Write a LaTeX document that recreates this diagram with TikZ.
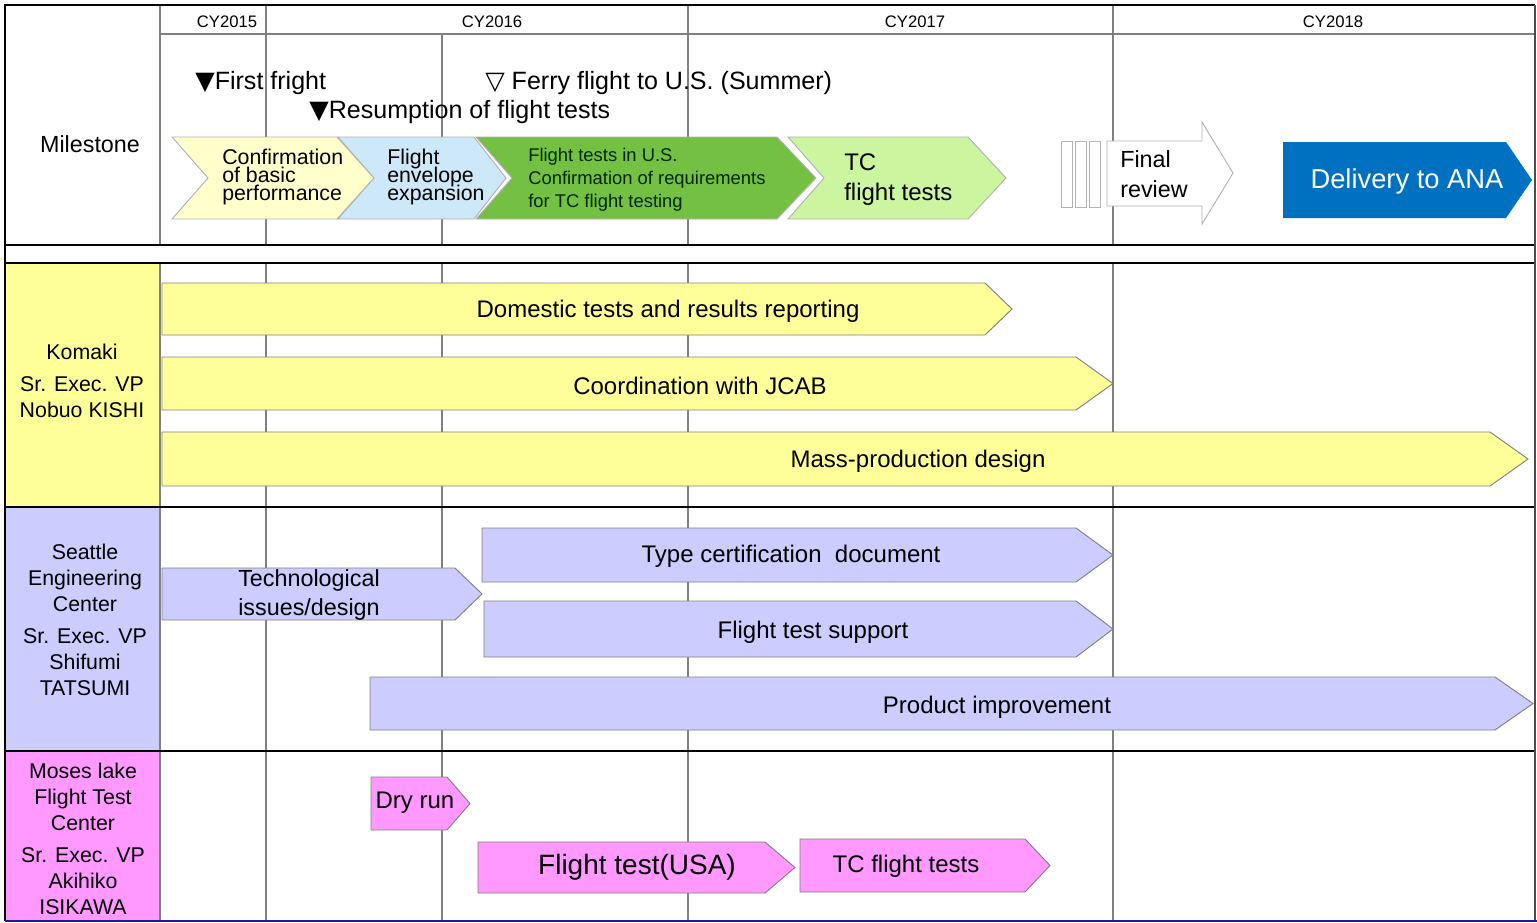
\documentclass[tikz,border=0pt]{standalone}
\usepackage{fontspec}
\setmainfont{Liberation Sans}
\newfontfamily\symf{DejaVu Sans}
\definecolor{barY}{HTML}{FFFF99}
\definecolor{barL}{HTML}{CCCCFF}
\definecolor{barP}{HTML}{FF99FF}
\definecolor{chY}{HTML}{FFFFCC}
\definecolor{chB}{HTML}{CDE8F8}
\definecolor{chG}{HTML}{74C043}
\definecolor{chLG}{HTML}{CCF5A0}
\definecolor{delB}{HTML}{0070C0}
\definecolor{gridc}{HTML}{808080}
\definecolor{navy}{HTML}{1A1AA0}
\newcommand{\mybar}[6]{\path[#1] (#2,#3) -- (#4,#3) -- (#5,{(#3+#6)/2}) -- (#4,#6) -- (#2,#6) -- cycle;}
\newcommand{\mychev}[7]{\path[#1] (#2,#3) -- (#4,#3) -- (#5,{(#3+#6)/2}) -- (#4,#6) -- (#2,#6) -- ({#2+#7},{(#3+#6)/2}) -- cycle;}
\AtBeginDocument{\lineskiplimit=-20pt\relax}
\begin{document}
\begin{tikzpicture}[x=0.75pt,y=-0.75pt,
  gridline/.style={draw=gridc, line width=0.9pt},
  thickline/.style={draw=black, line width=2.2pt},
  barbox/.style={draw=gridc, line width=0.7pt},
  chevbox/.style={draw=gray!60, line width=0.7pt},
  bartxt/.style={font=\fontsize{18}{21}\selectfont, inner sep=0, align=center},
  celltxt/.style={font=\fontsize{16}{19.5}\selectfont, inner sep=0, align=center},
  yeartxt/.style={font=\fontsize{12.5}{14}\selectfont, inner sep=0},
  mstxt/.style={font=\fontsize{18.8}{21}\selectfont, inner sep=0, anchor=base west},
  tightleft/.style={anchor=west, align=left, inner sep=0, font=\fontsize{16}{13.4}\selectfont}]
\useasboundingbox (0,0) rectangle (1537,922);
\fill[white] (0,0) rectangle (1537,922);
% left column fills
\fill[barY] (5,263) rectangle (160,507);
\fill[barL] (5,507) rectangle (160,751);
\fill[barP] (5,751) rectangle (160,920);
% grid lines
\draw[gridline] (160,5) -- (160,920);
\draw[gridline] (160,34) -- (1535,34);
\foreach \gx in {266,688,1113} {
  \draw[gridline] (\gx,5) -- (\gx,245);
  \draw[gridline] (\gx,263) -- (\gx,920);
}
\draw[gridline] (442,34) -- (442,245);
\draw[gridline] (442,263) -- (442,920);
% milestone chevrons
\mychev{fill=chY,chevbox}{172}{137}{337}{374}{219}{36}
\mychev{fill=chB,chevbox}{338}{137}{474}{506}{219}{36}
\mychev{fill=chG,chevbox}{476}{137}{777}{816}{219}{36}
\mychev{fill=chLG,chevbox}{788}{137}{968}{1006}{219}{36}
\foreach \rx in {1061,1075,1089} {
  \draw[fill=white, draw=gray!60, line width=0.7pt] (\rx,141) rectangle ({\rx+11},207);
}
\path[fill=white, draw=gray!60, line width=0.7pt] (1107,141) -- (1202,141) -- (1202,122) -- (1233,173) -- (1202,224) -- (1202,206) -- (1107,206) -- cycle;
\mybar{fill=delB}{1283}{142}{1506}{1532}{218}
% Komaki bars
\mybar{fill=barY,barbox}{162}{283}{985}{1012}{335}
\mybar{fill=barY,barbox}{162}{357}{1076}{1113}{410}
\mybar{fill=barY,barbox}{162}{432}{1490}{1528}{486}
% Seattle bars
\mybar{fill=barL,barbox}{162}{568}{455}{482}{620}
\mybar{fill=barL,barbox}{482}{528}{1076}{1113}{582}
\mybar{fill=barL,barbox}{484}{601}{1076}{1113}{657}
\mybar{fill=barL,barbox}{370}{677}{1495}{1533}{730}
% Moses bars
\mybar{fill=barP,barbox}{371}{777}{447}{470}{830}
\mybar{fill=barP,barbox}{478}{842}{765}{795}{893}
\mybar{fill=barP,barbox}{800}{839}{1025}{1050}{892}
% frame and thick rules
\fill[white] (5,245) rectangle (1535,263);
\draw[thickline] (5,5) -- (1535,5);
\draw[thickline] (5,4) -- (5,921);
\foreach \ry in {245,263,507,751} { \draw[thickline] (5,\ry) -- (1535,\ry); }
\draw[draw=gray!60!black, line width=1.5pt] (1535,5) -- (1535,920);
\draw[draw=navy, line width=1.6pt] (5,921) -- (1537,921);
% year labels
\node[yeartxt] (y15) at (227,22) {CY2015};
\node[yeartxt] (y16) at (492,22) {CY2016};
\node[yeartxt] (y17) at (915,22) {CY2017};
\node[yeartxt] (y18) at (1333,22) {CY2018};
% row labels
\node[font=\fontsize{17.5}{21}\selectfont, inner sep=0] (ms) at (90,144) {Milestone};
\node[celltxt] (komaki) at (82,381) {Komaki\\[5pt]Sr. Exec. VP\\Nobuo KISHI};
\node[celltxt] (seattle) at (85,620) {Seattle\\Engineering\\Center\\[5pt]Sr. Exec. VP\\Shifumi\\TATSUMI};
\node[celltxt] (moses) at (83,839) {Moses lake\\Flight Test\\Center\\[5pt]Sr. Exec. VP\\Akihiko\\ISIKAWA};
% milestone events
\node[mstxt] (ff) at (195,89) {{\symf\fontsize{19}{21}\selectfont ▼}First fright};
\node[mstxt] (rs) at (309,118) {{\symf\fontsize{19}{21}\selectfont ▼}Resumption of flight tests};
\node[mstxt] (fe) at (485,89) {{\symf\fontsize{19}{21}\selectfont ▽} Ferry flight to U.S. (Summer)};
% chevron texts
\node[tightleft] (cbp) at (222,177) {Confirmation\\of basic\\performance};
\node[tightleft] (fee) at (387,177) {Flight\\envelope\\expansion};
\node[anchor=west, align=left, inner sep=0, font=\fontsize{13.8}{17.2}\selectfont, text=black!85!green] (ftus) at (528,180) {Flight tests in U.S.\\Confirmation of requirements\\for TC flight testing};
\node[anchor=west, align=left, inner sep=0, font=\fontsize{18}{22.5}\selectfont] (tcft) at (844,180) {TC\\flight tests};
\node[anchor=west, align=left, inner sep=0, font=\fontsize{17.5}{22.5}\selectfont] (fr) at (1120,174) {Final\\review};
\node[inner sep=0, font=\fontsize{20.5}{24}\selectfont, text=white] (ana) at (1407,181) {Delivery to ANA};
% bar texts
\node[bartxt] (dom) at (668,311) {Domestic tests and results reporting};
\node[bartxt] (jcab) at (700,386) {Coordination with JCAB};
\node[bartxt] (mass) at (918,461) {Mass-production design};
\node[bartxt, font=\fontsize{17.5}{21.75}\selectfont] (tech) at (309,595) {Technological\\issues/design};
\node[bartxt] (tcd) at (791,556) {Type certification\ \ document};
\node[bartxt] (fts) at (813,632) {Flight test support};
\node[bartxt] (pi) at (997,707) {Product improvement};
\node[bartxt] (dry) at (415,803) {Dry run};
\node[bartxt, font=\fontsize{21}{24}\selectfont] (ftusa) at (637,867) {Flight test(USA)};
\node[bartxt] (tcf) at (906,866) {TC flight tests};
\end{tikzpicture}
\end{document}
